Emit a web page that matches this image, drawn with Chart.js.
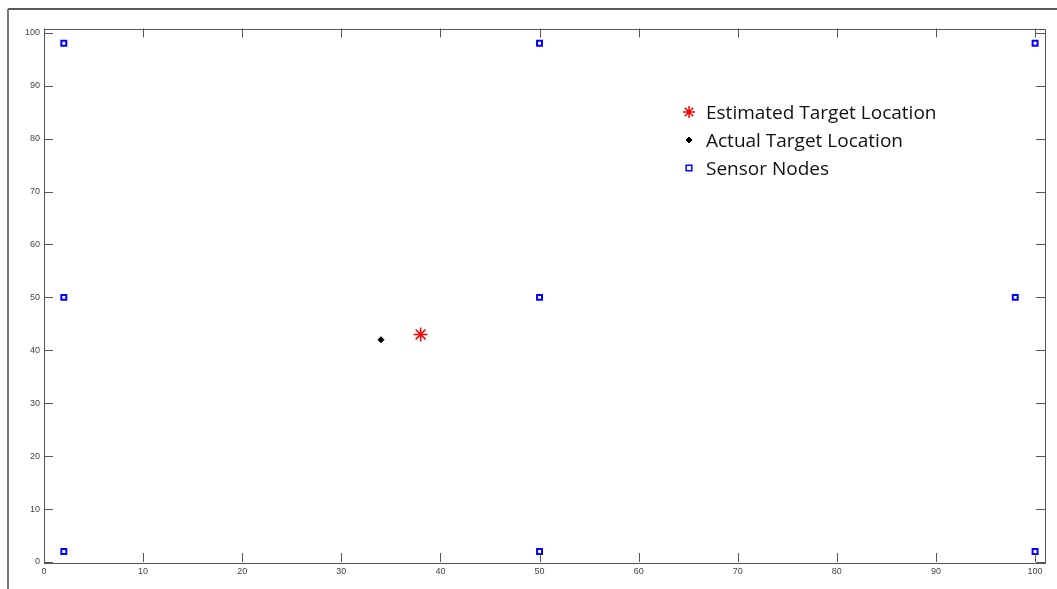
<!DOCTYPE html>
<html><head><meta charset="utf-8">
<script src="https://cdn.jsdelivr.net/npm/chart.js@4/dist/chart.umd.min.js"></script>
<style>html,body{margin:0;padding:0;background:#fff}#wrap{width:1057px;height:589px;position:relative}</style>
</head><body><div id="wrap"><canvas id="c" width="1057" height="589"></canvas></div>
<script>
const xTicks = [0,10,20,30,40,50,60,70,80,90,100];
const yTicks = [0,10,20,30,40,50,60,70,80,90,100];
const sensorX = [2,50,100,2,50,98,2,50,100];
const sensorY = [98,98,98,50,50,50,2,2,2];
const estimatedX = [38];
const estimatedY = [43];
const actualX = [34];
const actualY = [42];
const legendLabels = ['Estimated Target Location','Actual Target Location','Sensor Nodes'];

const pts = (xs, ys) => xs.map((x,i)=>({x, y: ys[i]}));

const framePlugin = {
  id:'frame',
  beforeDraw(chart){
    const ctx = chart.ctx;
    ctx.save();
    ctx.fillStyle='#fff'; ctx.fillRect(0,0,chart.width,chart.height);
    ctx.strokeStyle='#222'; ctx.lineWidth=1.5;
    ctx.beginPath(); ctx.moveTo(8,9); ctx.lineTo(chart.width,9); ctx.stroke();
    ctx.strokeStyle='#777'; ctx.lineWidth=2;
    ctx.beginPath(); ctx.moveTo(8,9); ctx.lineTo(8,chart.height); ctx.stroke();
    ctx.restore();
  },
  afterDraw(chart){
    const ctx = chart.ctx, a = chart.chartArea, xs = chart.scales.x, ys = chart.scales.y;
    ctx.save();
    ctx.strokeStyle='#555'; ctx.lineWidth=1;
    ctx.strokeRect(Math.round(a.left)+0.5, Math.round(a.top)+0.5, Math.round(a.right-a.left), Math.round(a.bottom-a.top));
    ctx.beginPath();
    xTicks.forEach(v=>{
      const px = Math.round(xs.getPixelForValue(v))+0.5;
      ctx.moveTo(px,a.bottom); ctx.lineTo(px,a.bottom-9);
      ctx.moveTo(px,a.top); ctx.lineTo(px,a.top+9);
    });
    yTicks.forEach(v=>{
      const py = Math.round(ys.getPixelForValue(v))+0.5;
      ctx.moveTo(a.left,py); ctx.lineTo(a.left+9,py);
      ctx.moveTo(a.right,py); ctx.lineTo(a.right-9,py);
    });
    ctx.stroke();
    // legend
    const lx = 689, ly = [112,140,168];
    const styles = [
      {pointStyle:'star', radius:6, borderColor:'#ff0000', backgroundColor:'#ff0000', borderWidth:1.5},
      {pointStyle:'rectRot', radius:3, borderColor:'#000', backgroundColor:'#000', borderWidth:1},
      {pointStyle:'rect', radius:4, borderColor:'#0000ff', backgroundColor:'#fff', borderWidth:1.5}
    ];
    ctx.font = '19px "Open Sans", Lato, sans-serif';
    ctx.fillStyle='#111'; ctx.textBaseline='middle'; ctx.textAlign='left';
    legendLabels.forEach((t,i)=>{
      ctx.lineWidth = styles[i].borderWidth;
      ctx.strokeStyle = styles[i].borderColor; ctx.fillStyle = styles[i].backgroundColor;
      Chart.helpers.drawPoint(ctx, styles[i], lx, ly[i]);
      ctx.fillStyle='#111';
      ctx.fillText(t, 706, ly[i] + 1.5);
    });
    ctx.restore();
  }
};

new Chart(document.getElementById('c'), {
  type:'scatter',
  data:{datasets:[
    {label:legendLabels[0], data:pts(estimatedX,estimatedY), pointStyle:'star', pointRadius:7, borderColor:'#ff0000', backgroundColor:'#ff0000', borderWidth:1.5},
    {label:legendLabels[1], data:pts(actualX,actualY), pointStyle:'rectRot', pointRadius:3, borderColor:'#000', backgroundColor:'#000', borderWidth:1},
    {label:legendLabels[2], data:pts(sensorX,sensorY), pointStyle:'rect', pointRadius:3.5, borderColor:'#0000ff', backgroundColor:'#fff', borderWidth:2}
  ]},
  plugins:[framePlugin],
  options:{
    responsive:false, animation:false, events:[],
    layout:{padding:{left:0,top:28.5,right:12,bottom:0}},
    plugins:{legend:{display:false}, tooltip:{enabled:false}},
    scales:{
      x:{type:'linear', min:0, max:101,
        afterBuildTicks(s){ s.ticks = xTicks.map(v=>({value:v})); },
        afterFit(s){ s.height = 27; },
        grid:{display:false, drawTicks:false}, border:{display:false},
        ticks:{color:'#444', padding:4, font:{family:'"Liberation Sans", Arial, sans-serif', size:9}, maxRotation:0, autoSkip:false}
      },
      y:{type:'linear', min:0, max:100.8,
        afterBuildTicks(s){ s.ticks = yTicks.map(v=>({value:v})); },
        afterFit(s){ s.width = 44; },
        grid:{display:false, drawTicks:false}, border:{display:false},
        ticks:{color:'#444', padding:4, font:{family:'"Liberation Sans", Arial, sans-serif', size:9}, autoSkip:false}
      }
    }
  }
});
</script></body></html>
